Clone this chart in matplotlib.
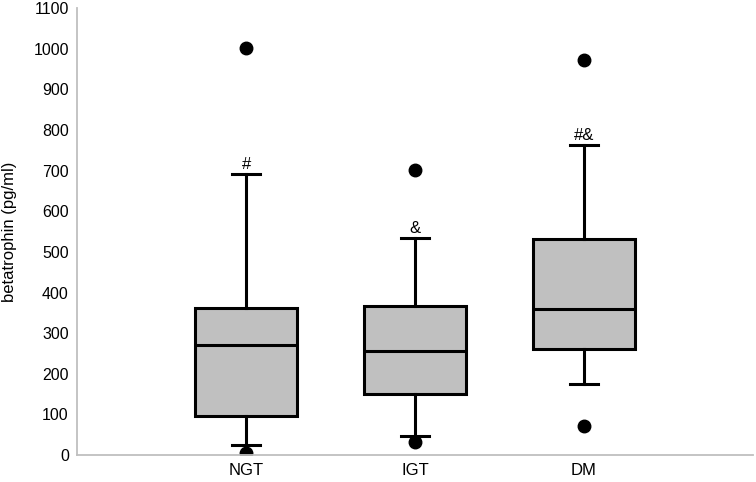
import matplotlib
matplotlib.use("Agg")
import matplotlib.pyplot as plt

plt.rcParams['font.family'] = ['Liberation Sans', 'DejaVu Sans']

categories = ["NGT", "IGT", "DM"]
whisker_low = [24, 48, 176]
q1 = [97, 150, 261]
median = [271, 255, 359]
q3 = [362, 367, 533]
whisker_high = [692, 535, 763]
outliers = [[1002, 6], [702, 32], [972, 72]]
annotations = ["#", "&", "#&"]
yticks = list(range(0, 1101, 100))

stats = []
for i, c in enumerate(categories):
    stats.append(dict(label=c, whislo=whisker_low[i], q1=q1[i], med=median[i],
                      q3=q3[i], whishi=whisker_high[i], fliers=outliers[i]))

fig = plt.figure(figsize=(7.56, 4.82), dpi=100)
ax = fig.add_axes([0.102, 0.056, 0.894, 0.927])
positions = [1, 2, 3]
ax.bxp(stats, positions=positions, widths=0.6, patch_artist=True,
       boxprops=dict(facecolor="#C0C0C0", edgecolor="black", linewidth=2.2),
       medianprops=dict(color="black", linewidth=2.2),
       whiskerprops=dict(color="black", linewidth=2.2),
       capprops=dict(color="black", linewidth=2.2),
       flierprops=dict(marker="o", markerfacecolor="black", markeredgecolor="black", markersize=9),
       capwidths=0.17)

for i, t in enumerate(annotations):
    ax.text(positions[i], whisker_high[i] + 12, t, ha="center", va="baseline", fontsize=12)

ax.set_xlim(0, 4)
ax.set_ylim(0, 1100)
ax.set_yticks(yticks)
ax.set_xticks(positions)
ax.set_xticklabels(categories)
ax.tick_params(axis="y", length=0, labelsize=11.5, pad=6)
ax.tick_params(axis="x", length=0, labelsize=12, pad=6)
ax.set_ylabel("betatrophin (pg/ml)", fontsize=12, va="center")
ax.yaxis.set_label_coords(-0.1006, 0.5)
for s in ["top", "right"]:
    ax.spines[s].set_visible(False)
for s in ["left", "bottom"]:
    ax.spines[s].set_color("#BFBFBF")
    ax.spines[s].set_linewidth(1.3)

fig.savefig("out.png", dpi=100)
